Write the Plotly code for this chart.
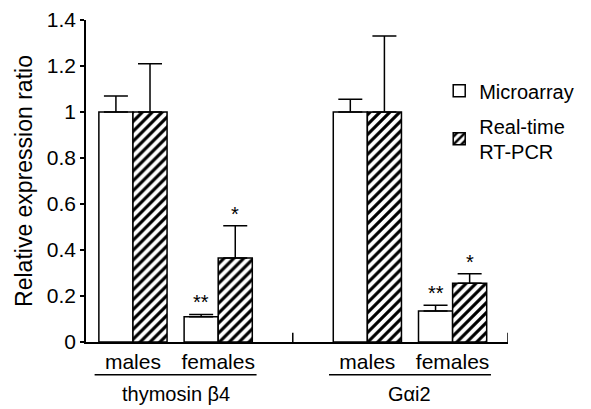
import plotly.graph_objects as go

# ---- data ----
groups = ["thymosin β4", "Gαi2"]
sexes = ["males", "females"]
positions = [0, 1, 2.75, 3.75]          # category slots on the x axis
tick_labels = ["males", "females", "males", "females"]

micro_vals = [1.0, 0.11, 1.0, 0.135]
micro_err = [0.07, 0.01, 0.055, 0.025]
pcr_vals = [1.0, 0.365, 1.0, 0.255]
pcr_err = [0.21, 0.14, 0.33, 0.042]

micro_marks = ["", "**", "", "**"]
pcr_marks = ["", "*", "", "*"]

FONT = "Liberation Sans, Arial, sans-serif"
BAR_W = 0.4

fig = go.Figure()
fig.add_trace(go.Bar(
    x=positions, y=micro_vals, name="Microarray", legendgroup="a",
    marker=dict(color="white", line=dict(color="black", width=1.5)),
    error_y=dict(type="data", array=micro_err, arrayminus=[0] * 4,
                 color="black", thickness=1.5, width=12),
))
fig.add_trace(go.Bar(
    x=positions, y=pcr_vals, name="Real-time<br>RT-PCR", legendgroup="b",
    marker=dict(color="white", line=dict(color="black", width=1.5),
                pattern=dict(shape="/", fgcolor="black", bgcolor="white",
                             size=7, solidity=0.45)),
    error_y=dict(type="data", array=pcr_err, arrayminus=[0] * 4,
                 color="black", thickness=1.5, width=12),
))

annotations = []
for p, v, e, m in zip(positions, micro_vals, micro_err, micro_marks):
    if m:
        annotations.append(dict(x=p - BAR_W / 2, y=v + e, text=m, showarrow=False,
                                yanchor="bottom", yshift=-1,
                                font=dict(size=20, family=FONT, color="black")))
for p, v, e, m in zip(positions, pcr_vals, pcr_err, pcr_marks):
    if m:
        annotations.append(dict(x=p + BAR_W / 2, y=v + e, text=m, showarrow=False,
                                yanchor="bottom", yshift=-1,
                                font=dict(size=20, family=FONT, color="black")))

shapes = []
for gi, g in enumerate(groups):
    a, b = positions[2 * gi], positions[2 * gi + 1]
    c = (a + b) / 2
    shapes.append(dict(type="line", xref="x", yref="paper", x0=c - 0.95, x1=c + 0.95,
                       y0=-0.102, y1=-0.102, line=dict(color="black", width=1.5)))
    annotations.append(dict(x=c, y=-0.163, xref="x", yref="paper", text=g,
                            showarrow=False, yanchor="middle",
                            font=dict(size=20, family=FONT, color="black")))

# small upward ticks on the x axis: between groups and at the right end
mid = (positions[1] + positions[2]) / 2
x_end = 4.40
for xt in [mid, x_end]:
    shapes.append(dict(type="line", xref="x", yref="y", x0=xt, x1=xt, y0=0, y1=0.04,
                       line=dict(color="black", width=1.5)))

fig.update_layout(
    template="none",
    width=591, height=409,
    margin=dict(l=86, r=83, t=20, b=67, pad=0),
    paper_bgcolor="white", plot_bgcolor="white",
    barmode="group", bargap=0.2, bargroupgap=0,
    font=dict(family=FONT, size=20, color="black"),
    showlegend=True,
    legend=dict(x=0.837, y=0.841, xanchor="left", yanchor="top",
                font=dict(size=20, family=FONT), bgcolor="rgba(0,0,0,0)",
                itemwidth=30, tracegroupgap=6),
    annotations=annotations,
    shapes=shapes,
)
fig.update_xaxes(range=[-0.551, x_end], tickvals=positions, ticktext=tick_labels,
                 ticks="", showline=True, linecolor="black", linewidth=1.5,
                 showgrid=False, zeroline=False, tickfont=dict(size=21),
                 automargin=False)
fig.update_yaxes(range=[0, 1.4], tickvals=[0, 0.2, 0.4, 0.6, 0.8, 1, 1.2, 1.4],
                 ticktext=["0", "0.2", "0.4", "0.6", "0.8", "1", "1.2", "1.4"],
                 ticks="outside", ticklen=4, tickwidth=1.5, tickcolor="black",
                 showline=True, linecolor="black", linewidth=1.5,
                 showgrid=False, zeroline=False, tickfont=dict(size=21),
                 automargin=False,
                 title=dict(text="Relative expression ratio", font=dict(size=23),
                            standoff=8))

fig.write_html("out.html", config={"displayModeBar": False},
               post_script="document.body.style.margin='0';document.body.style.overflow='hidden';")
